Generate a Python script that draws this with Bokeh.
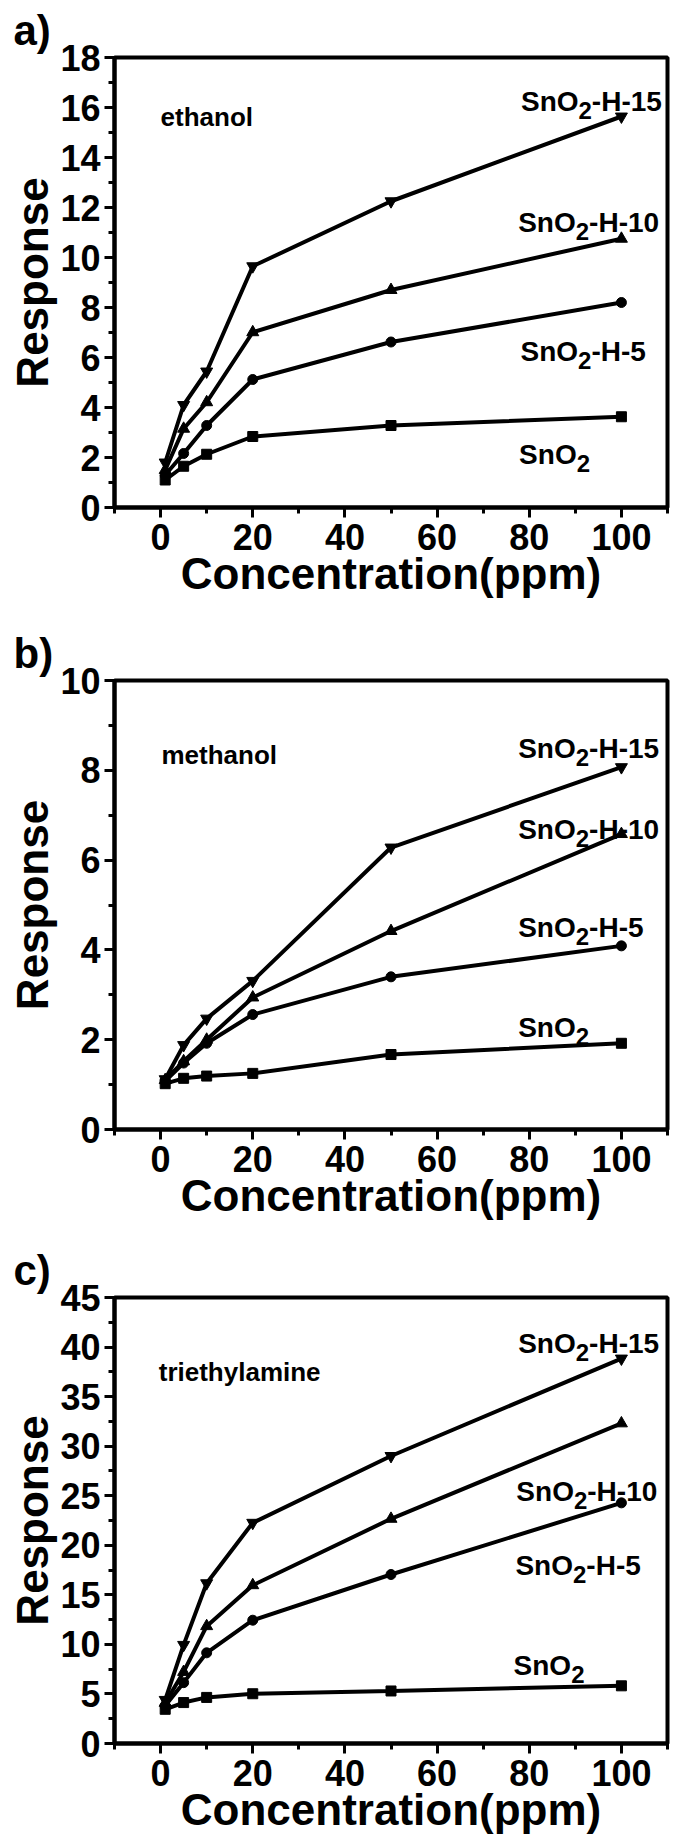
from bokeh.plotting import figure
from bokeh.layouts import column
from bokeh.models import FixedTicker, Range1d
from bokeh.core.properties import value
from bokeh.embed import file_html
from bokeh.resources import INLINE

# ---------------- data ----------------
conc = [1, 5, 10, 20, 50, 100]
samples = ["SnO2", "SnO2-H-5", "SnO2-H-10", "SnO2-H-15"]
sample_suffix = ["", "-H-5", "-H-10", "-H-15"]
markers = ["square", "circle", "triangle", "inverted_triangle"]

ethanol_sno2 = [1.10, 1.65, 2.13, 2.84, 3.28, 3.63]
ethanol_h5 = [1.30, 2.16, 3.28, 5.12, 6.62, 8.20]
ethanol_h10 = [1.50, 3.15, 4.21, 7.01, 8.70, 10.75]
ethanol_h15 = [1.80, 4.10, 5.44, 9.65, 12.25, 15.64]

methanol_sno2 = [1.02, 1.14, 1.19, 1.25, 1.67, 1.92]
methanol_h5 = [1.08, 1.48, 1.92, 2.56, 3.40, 4.09]
methanol_h10 = [1.10, 1.52, 2.00, 2.94, 4.42, 6.58]
methanol_h15 = [1.12, 1.88, 2.47, 3.31, 6.28, 8.07]

tea_sno2 = [3.45, 4.13, 4.65, 5.02, 5.30, 5.82]
tea_h5 = [3.80, 6.14, 9.15, 12.44, 17.05, 24.28]
tea_h10 = [4.10, 7.22, 11.84, 15.97, 22.67, 32.30]
tea_h15 = [4.40, 9.95, 16.17, 22.27, 29.01, 38.84]

x_major = [0, 20, 40, 60, 80, 100]
x_minor = [-10, 10, 30, 50, 70, 90, 110]

# ---------------- layout / style ----------------
FONT = "Liberation Sans"
FIG_W = 670

panels = [
    dict(tag="a)", gas="ethanol",
         series=[ethanol_sno2, ethanol_h5, ethanol_h10, ethanol_h15],
         ymax=18, ystep=2,
         gas_pos=(0.0, 15.64),
         lab_pos=[(77.8, 2.13), (78.1, 6.26), (77.6, 11.39), (78.2, 16.24)],
         height=615, top=57, bottom=108),
    dict(tag="b)", gas="methanol",
         series=[methanol_sno2, methanol_h5, methanol_h10, methanol_h15],
         ymax=10, ystep=2,
         gas_pos=(0.2, 8.35),
         lab_pos=[(77.6, 2.27), (77.6, 4.50), (77.6, 6.69), (77.6, 8.49)],
         height=625, top=65, bottom=111),
    dict(tag="c)", gas="triethylamine",
         series=[tea_sno2, tea_h5, tea_h10, tea_h15],
         ymax=45, ystep=5,
         gas_pos=(-0.4, 37.5),
         lab_pos=[(76.6, 7.9), (77.0, 18.0), (77.2, 25.4), (77.6, 40.4)],
         height=603, top=55, bottom=100),
]

LAB_SIZE = 28
SUB_SIZE = 24
W_SNO = (0.667 + 0.611 + 0.778) * LAB_SIZE
W_SUB = 0.556 * SUB_SIZE


def add_formula(p, x, y, suffix):
    common = dict(text_font=value(FONT), text_font_style="bold",
                  text_color="black", text_baseline="alphabetic", text_align="left")
    p.text(x=[x], y=[y], text=["SnO"], text_font_size=f"{LAB_SIZE}px", **common)
    p.text(x=[x], y=[y], text=["2"], x_offset=W_SNO, y_offset=9,
           text_font_size=f"{SUB_SIZE}px", **common)
    if suffix:
        p.text(x=[x], y=[y], text=[suffix], x_offset=W_SNO + W_SUB,
               text_font_size=f"{LAB_SIZE}px", **common)


figs = []
for pan in panels:
    p = figure(width=FIG_W, height=pan["height"], output_backend="svg",
               toolbar_location=None,
               x_range=Range1d(-10, 110), y_range=Range1d(0, pan["ymax"]),
               min_border_left=114, min_border_right=3,
               min_border_top=pan["top"], min_border_bottom=pan["bottom"],
               background_fill_color="white", border_fill_color="white")
    p.grid.visible = False
    p.outline_line_color = "black"
    p.outline_line_width = 4

    p.title.text = pan["tag"]
    p.title.text_font = FONT
    p.title.text_font_size = "42px"
    p.title.text_font_style = "bold"
    p.title.text_color = "black"
    p.title.align = "left"
    p.title.offset = -101
    p.title.standoff = 8

    ym = list(range(0, pan["ymax"] + 1, pan["ystep"]))
    yminor = [v + pan["ystep"] / 2 for v in ym[:-1]]
    p.xaxis.ticker = FixedTicker(ticks=x_major, minor_ticks=x_minor)
    p.yaxis.ticker = FixedTicker(ticks=ym, minor_ticks=yminor)

    for ax in (p.xaxis[0], p.yaxis[0]):
        ax.axis_line_width = 4
        ax.axis_line_color = "black"
        ax.major_tick_line_width = 3
        ax.minor_tick_line_width = 3
        ax.major_tick_out = 10
        ax.major_tick_in = 0
        ax.minor_tick_out = 6
        ax.minor_tick_in = 0
        ax.major_label_text_font = FONT
        ax.major_label_text_font_style = "bold"
        ax.major_label_text_color = "black"
        ax.axis_label_text_font = FONT
        ax.axis_label_text_font_style = "bold"
        ax.axis_label_text_color = "black"
        ax.axis_label_text_font_size = "44px"

    p.xaxis.axis_label = "Concentration(ppm)"
    p.yaxis.axis_label = "Response"
    p.xaxis.major_label_text_font_size = "36px"
    p.yaxis.major_label_text_font_size = "36px"
    p.xaxis.major_label_standoff = 6
    p.xaxis.axis_label_standoff = -4
    p.yaxis.major_label_standoff = 4
    p.yaxis.axis_label_standoff = 0

    for ys, mk in zip(pan["series"], markers):
        p.line(conc, ys, line_color="black", line_width=4)
        size = 12 if "triangle" in mk else 10
        p.scatter(conc, ys, marker=mk, size=size, fill_color="black",
                  line_color="black")

    gx, gy = pan["gas_pos"]
    p.text(x=[gx], y=[gy], text=[pan["gas"]], text_font=value(FONT),
           text_font_style="bold", text_font_size="26px", text_color="black",
           text_baseline="alphabetic", text_align="left")

    for (lx, ly), suf in zip(pan["lab_pos"], sample_suffix):
        add_formula(p, lx, ly, suf)

    figs.append(p)

layout = column(*figs, spacing=0)
open("out.html", "w").write(file_html(layout, INLINE))
